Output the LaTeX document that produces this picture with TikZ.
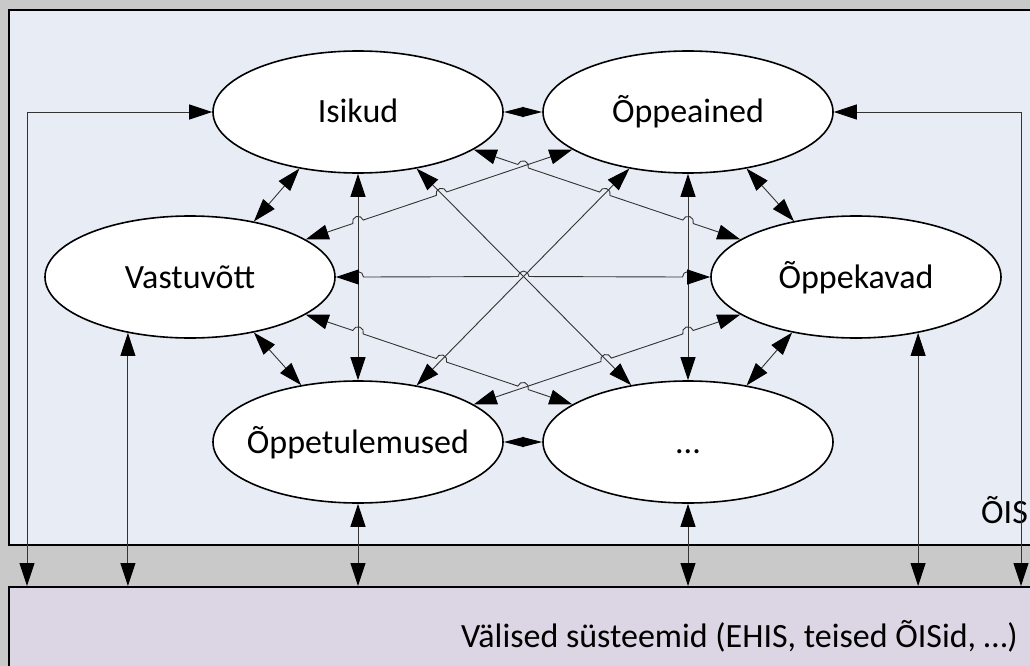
\documentclass[tikz,border=0pt]{standalone}
\usepackage{fontspec}
\setmainfont{Carlito}
\usetikzlibrary{arrows.meta,calc,shapes.geometric}
\definecolor{bggray}{HTML}{C9C9C9}
\definecolor{oisfill}{HTML}{E8ECF4}
\definecolor{extfill}{HTML}{DCD6E4}
\newcommand\hopat[3]{-- ($(#1)!5.5pt!(#2)$) arc[start angle=#3+180, delta angle=-180, radius=5.5pt]}
\begin{document}
\begin{tikzpicture}[x=1pt,y=1pt,
  frame/.style={draw=black, line width=1.6pt, inner sep=0pt, anchor=north west},
  ent/.style={ellipse, draw=black, line width=1.6pt, fill=white, minimum width=290pt, minimum height=122pt, inner sep=0pt},
  lbl/.style={font=\fontsize{34}{40}\selectfont, text height=25pt, text depth=3pt, inner sep=0pt},
  txt/.style={font=\fontsize{34}{40}\selectfont, inner sep=0pt},
  conn/.style={draw=black!80, line width=0.9pt, {Triangle[length=23pt,width=15pt,color=black]}-{Triangle[length=23pt,width=15pt,color=black]}},
  sconn/.style={draw=black!80, line width=0.9pt, {Triangle[length=20pt,width=10pt,color=black]}-{Triangle[length=20pt,width=10pt,color=black]}}
]
\useasboundingbox (0,0) rectangle (1030,-666);
\clip (0,0) rectangle (1030,-666);
\fill[bggray] (0,0) rectangle (1030,-666);

% frames
\node[frame, fill=oisfill, minimum width=1040pt, minimum height=535pt] (ois) at (8,-9) {};
\node[frame, fill=extfill, minimum width=1040pt, minimum height=100pt] (ext) at (8,-586) {};
\node[txt, anchor=base west] (oislbl) at (981,-523) {ÕIS};
\node[txt, anchor=base east] (extlbl) at (1018,-647) {Välised süsteemid (EHIS, teised ÕISid, …)};

% entities
\node[ent, label={[lbl,name=t1]center:Isikud}] (isikud) at (358,-112) {};
\node[ent, label={[lbl,name=t2]center:Õppeained}] (ained) at (688,-112) {};
\node[ent, label={[lbl,name=t3]center:Vastuvõtt}] (vastu) at (190,-277) {};
\node[ent, label={[lbl,name=t4]center:Õppekavad}] (kavad) at (856,-277) {};
\node[ent, label={[lbl,name=t5]center:Õppetulemused}] (tul) at (358,-442) {};
\node[ent, label={[lbl,name=t6]center:...}] (dots) at (688,-442) {};

% end points
\coordinate (l1a) at (isikud.-18);
\coordinate (l1b) at (kavad.162);
\coordinate (l2a) at (vastu.18);
\coordinate (l2b) at (ained.198);
\coordinate (l4a) at (vastu.-18);
\coordinate (l4b) at (dots.162);
\coordinate (l5a) at (tul.18);
\coordinate (l5b) at (kavad.198);
\coordinate (d1a) at (isikud.-44.5);
\coordinate (d1b) at (dots.135.5);
\coordinate (d2a) at (tul.44.5);
\coordinate (d2b) at (ained.224.5);

% crossing points
\coordinate (x12) at (intersection of l1a--l1b and l2a--l2b);
\coordinate (x1d2) at (intersection of l1a--l1b and d2a--d2b);
\coordinate (x1v) at (intersection of l1a--l1b and ained.south--dots.north);
\coordinate (x2v) at (intersection of l2a--l2b and isikud.south--tul.north);
\coordinate (x2d1) at (intersection of l2a--l2b and d1a--d1b);
\coordinate (x4v) at (intersection of l4a--l4b and isikud.south--tul.north);
\coordinate (x4d2) at (intersection of l4a--l4b and d2a--d2b);
\coordinate (x45) at (intersection of l4a--l4b and l5a--l5b);
\coordinate (x5d1) at (intersection of l5a--l5b and d1a--d1b);
\coordinate (x5v) at (intersection of l5a--l5b and ained.south--dots.north);
\coordinate (x3a) at (vastu.east -| isikud.south);
\coordinate (x3b) at (intersection of d1a--d1b and d2a--d2b);
\coordinate (x3c) at (vastu.east -| ained.south);

% straight connectors
\draw[sconn] (isikud.east) -- (ained.west);
\draw[sconn] (tul.east) -- (dots.west);
\draw[conn] (isikud.224.5) -- (vastu.41.6);
\draw[conn] (ained.-44.5) -- (kavad.138.4);
\draw[conn] (vastu.-41.6) -- (tul.135.5);
\draw[conn] (kavad.221.6) -- (dots.44.5);
\draw[conn] (isikud.south) -- (tul.north);
\draw[conn] (ained.south) -- (dots.north);
\draw[conn] (d1a) -- (d1b);
\draw[conn] (d2a) -- (d2b);

% connectors with line jumps
\draw[conn] (l1a) \hopat{x12}{l1a}{-18.6} \hopat{x1d2}{l1a}{-18.6} \hopat{x1v}{l1a}{-18.6} -- (l1b);
\draw[conn] (l2a) \hopat{x2v}{l2a}{18.6} \hopat{x2d1}{l2a}{18.6} -- (l2b);
\draw[conn] (vastu.east) \hopat{x3a}{vastu.east}{0} \hopat{x3b}{vastu.east}{0} \hopat{x3c}{vastu.east}{0} -- (kavad.west);
\draw[conn] (l4a) \hopat{x4v}{l4a}{-18.6} \hopat{x4d2}{l4a}{-18.6} \hopat{x45}{l4a}{-18.6} -- (l4b);
\draw[conn] (l5a) \hopat{x5d1}{l5a}{18.6} \hopat{x5v}{l5a}{18.6} -- (l5b);

% connectors to external systems
\draw[conn] (isikud.west) -| ($(ext.north west)+(19,0)$);
\draw[conn] (ained.east) -| ($(ext.north west)+(1013,0)$);
\draw[conn] (vastu.222) -- (vastu.222 |- ext.north);
\draw[conn] (kavad.-42) -- (kavad.-42 |- ext.north);
\draw[conn] (tul.south) -- (tul.south |- ext.north);
\draw[conn] (dots.south) -- (dots.south |- ext.north);
\end{tikzpicture}
\end{document}
